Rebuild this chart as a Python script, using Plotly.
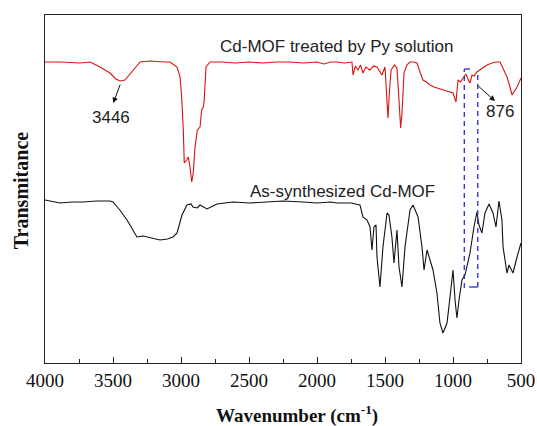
import plotly.graph_objects as go

# FTIR spectra: wavenumber (cm-1) and transmittance (arbitrary units, offset curves)
py_wavenumber = [4000, 3890, 3743, 3669, 3596, 3522, 3480, 3446, 3412, 3375, 3338, 3301,
                 3228, 3154, 3118, 3081, 3029, 3007, 2995, 2983, 2976, 2958, 2946, 2934,
                 2921, 2910, 2897, 2880, 2860, 2848, 2836, 2829, 2816, 2787, 2700, 2600,
                 2500, 2400, 2300, 2200, 2100, 2000, 1950, 1900, 1850, 1800, 1760, 1743,
                 1735, 1718, 1699, 1680, 1662, 1640, 1610, 1585, 1559, 1540, 1522, 1500,
                 1490, 1478, 1468, 1455, 1430, 1412, 1398, 1385, 1375, 1360, 1340, 1316,
                 1290, 1265, 1240, 1221, 1195, 1169, 1140, 1118, 1095, 1074, 1050, 1022,
                 1000, 978, 963, 945, 926, 905, 890, 876, 860, 845, 824, 800, 779, 750,
                 713, 680, 654, 632, 603, 585, 566, 548, 529, 500]
py_transmittance = [301, 301, 300, 301, 296, 290, 284, 282, 283, 289, 296, 301,
                    302, 301, 301, 301, 296, 286, 266, 233, 200, 203, 206, 196,
                    181, 190, 216, 233, 236, 253, 256, 263, 296, 301, 301, 300,
                    301, 300, 301, 301, 300, 301, 299, 301, 301, 300, 301, 301,
                    288, 297, 293, 298, 290, 296, 293, 297, 296, 292, 288, 296,
                    270, 245, 270, 293, 298, 295, 265, 235, 250, 290, 298, 301,
                    301, 300, 290, 283, 281, 278, 276, 275, 274, 273, 272, 271,
                    270, 261, 283, 281, 285, 289, 284, 280, 288, 287, 291, 293, 295, 298,
                    300, 301, 301, 295, 286, 278, 268, 272, 276, 285]

as_wavenumber = [4000, 3890, 3800, 3721, 3620, 3522, 3500, 3450, 3397, 3324, 3279,
                 3220, 3154, 3100, 3059, 3029, 2993, 2956, 2926, 2912, 2882, 2860,
                 2809, 2735, 2618, 2493, 2346, 2250, 2103, 2000, 1900, 1853, 1750,
                 1684, 1662, 1632, 1610, 1596, 1581, 1566, 1559, 1537, 1515, 1485,
                 1471, 1449, 1434, 1412, 1397, 1375, 1353, 1316, 1294, 1257, 1228,
                 1213, 1191, 1176, 1147, 1118, 1096, 1074, 1044, 1022, 1000, 985,
                 971, 956, 934, 912, 875, 846, 824, 809, 787, 765, 735, 706, 684,
                 662, 640, 632, 603, 588, 559, 529, 500]
as_transmittance = [163, 160, 161, 161, 162, 162, 161, 153, 143, 126, 127,
                    125, 123, 124, 126, 130, 148, 158, 159, 156, 155, 158,
                    154, 159, 161, 160, 161, 162, 161, 160, 161, 160, 160,
                    158, 146, 143, 136, 113, 136, 138, 106, 76, 116, 150,
                    148, 126, 100, 133, 96, 76, 116, 153, 158, 146, 116,
                    93, 113, 106, 93, 70, 40, 30, 40, 66, 93, 63,
                    45, 63, 83, 88, 110, 136, 151, 138, 130, 150, 159, 150, 136,
                    162, 143, 116, 90, 98, 90, 106, 120]

x_ticks = [4000, 3500, 3000, 2500, 2000, 1500, 1000, 500]

# dashed guide marking the 876 cm-1 region (wavenumbers and levels)
guide_left, guide_right = 917, 818
guide_top_left, guide_top_right = 294, 292
guide_bottom = 75

fig = go.Figure()
fig.add_trace(go.Scatter(x=py_wavenumber, y=py_transmittance, mode="lines",
                         line=dict(color="#d81414", width=1.1), showlegend=False))
fig.add_trace(go.Scatter(x=as_wavenumber, y=as_transmittance, mode="lines",
                         line=dict(color="#111111", width=1.1), showlegend=False))

dash_line = dict(color="#2a2ad0", width=1.3, dash="5px,4px")
fig.add_shape(type="line", x0=guide_left, x1=guide_left, y0=guide_bottom, y1=guide_top_left,
              xref="x", yref="y", line=dash_line)
fig.add_shape(type="line", x0=guide_left, x1=875, y0=guide_top_left, y1=guide_top_left,
              xref="x", yref="y", line=dict(color="#2a2ad0", width=1.3))
fig.add_shape(type="line", x0=guide_right, x1=guide_right, y0=guide_bottom + 1, y1=guide_top_right,
              xref="x", yref="y", line=dash_line)
fig.add_shape(type="line", x0=882, x1=guide_right, y0=guide_bottom + 1, y1=guide_bottom + 1,
              xref="x", yref="y", line=dict(color="#2a2ad0", width=1.3))

label_font = dict(family="Liberation Sans, Arial, sans-serif", size=17, color="#222222")
fig.add_annotation(x=1853, y=317, text="Cd-MOF treated by Py solution", showarrow=False,
                   font=label_font, xref="x", yref="y")
fig.add_annotation(x=1816, y=172, text="As-synthesized Cd-MOF", showarrow=False,
                   font=label_font, xref="x", yref="y")
fig.add_annotation(x=3515, y=246, text="3446", showarrow=False, font=label_font,
                   xref="x", yref="y")
fig.add_annotation(x=654, y=252, text="876", showarrow=False, font=label_font,
                   xref="x", yref="y")
# arrows from the bands to their labels
fig.add_annotation(x=3498, y=260, ax=3443, ay=280, axref="x", ayref="y", xref="x", yref="y",
                   text="", showarrow=True, arrowhead=2, arrowsize=1.1, arrowwidth=1,
                   arrowcolor="#111111")
fig.add_annotation(x=691, y=262, ax=831, ay=279, axref="x", ayref="y", xref="x", yref="y",
                   text="", showarrow=True, arrowhead=2, arrowsize=1.1, arrowwidth=1,
                   arrowcolor="#111111")

serif = "Liberation Serif, Times New Roman, serif"
fig.add_annotation(x=0.53, y=-0.148, xref="paper", yref="paper",
                   text="<b>Wavenumber (cm<sup>-1</sup>)</b>", showarrow=False,
                   font=dict(family=serif, size=19, color="#111111"), yanchor="middle")
fig.add_annotation(x=-0.05, y=0.497, xref="paper", yref="paper",
                   text="<b>Transmitance</b>", showarrow=False, textangle=-90,
                   font=dict(family=serif, size=20, color="#111111"),
                   xanchor="center", yanchor="middle")

fig.update_layout(
    width=537, height=426,
    margin=dict(l=45, r=16, t=15, b=63, autoexpand=False),
    paper_bgcolor="white", plot_bgcolor="white",
    xaxis=dict(range=[4000, 500], tickvals=x_ticks, ticktext=[str(v) for v in x_ticks],
               automargin=False,
               ticks="inside", ticklen=6, tickwidth=1, tickcolor="#222222",
               minor=dict(dtick=250, ticks="inside", ticklen=4, tickcolor="#222222"),
               showline=True, linecolor="#222222", linewidth=1, mirror=True,
               showgrid=False, zeroline=False,
               tickfont=dict(family=serif, size=19, color="#111111")),
    yaxis=dict(range=[0, 348], showticklabels=False, ticks="", automargin=False,
               showline=True, linecolor="#222222", linewidth=1, mirror=True,
               showgrid=False, zeroline=False),
)

fig.write_html("out.html")
